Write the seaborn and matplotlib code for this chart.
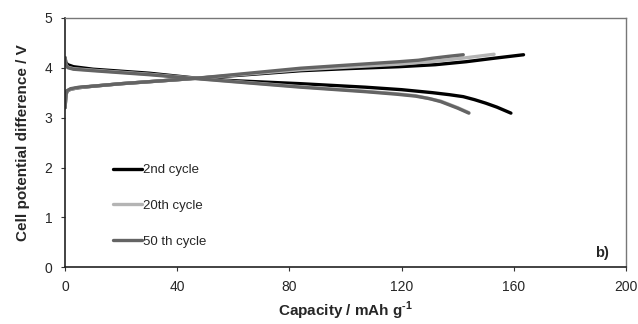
import pandas as pd
import matplotlib
matplotlib.use('Agg')
import matplotlib.pyplot as plt
import seaborn as sns

# Charge / discharge curves (capacity in mAh/g, potential in V)
cap_2_chg = [0, 0.3, 0.7, 2, 5, 10, 20, 30, 40, 47, 60, 84, 100, 119, 132, 143, 153, 163.5]
v_2_chg = [3.2, 3.45, 3.53, 3.57, 3.6, 3.63, 3.68, 3.72, 3.76, 3.79, 3.84, 3.94, 3.98, 4.02, 4.06, 4.12, 4.19, 4.26]
cap_2_dis = [0, 0.3, 1, 3, 10, 20, 30, 47, 60, 84, 107, 120, 131, 137, 142, 146, 150, 154, 159]
v_2_dis = [4.2, 4.1, 4.06, 4.02, 3.97, 3.93, 3.89, 3.79, 3.74, 3.68, 3.61, 3.56, 3.5, 3.46, 3.42, 3.36, 3.29, 3.21, 3.09]

cap_20_chg = [0, 0.3, 0.7, 2, 5, 10, 20, 30, 40, 47, 60, 84, 100, 119, 132, 143, 153]
v_20_chg = [3.2, 3.45, 3.53, 3.57, 3.6, 3.63, 3.68, 3.72, 3.76, 3.79, 3.85, 3.96, 4.01, 4.07, 4.13, 4.2, 4.27]
cap_20_dis = [0, 0.3, 1, 3, 10, 20, 30, 47, 60, 84, 107, 118, 125, 134, 140, 144]
v_20_dis = [4.2, 4.06, 4.01, 3.98, 3.95, 3.91, 3.87, 3.785, 3.725, 3.62, 3.53, 3.48, 3.44, 3.33, 3.2, 3.1]

cap_50_chg = [0, 0.3, 0.7, 2, 5, 10, 20, 30, 40, 47, 60, 84, 100, 119, 126, 131, 137, 142]
v_50_chg = [3.2, 3.45, 3.54, 3.58, 3.61, 3.63, 3.68, 3.72, 3.76, 3.79, 3.86, 3.99, 4.05, 4.12, 4.15, 4.19, 4.23, 4.26]
cap_50_dis = [0, 0.3, 1, 3, 10, 20, 30, 47, 60, 84, 107, 118, 125, 130, 134, 140, 144]
v_50_dis = [4.2, 4.05, 4.0, 3.97, 3.94, 3.9, 3.86, 3.78, 3.72, 3.61, 3.52, 3.47, 3.43, 3.38, 3.32, 3.19, 3.09]

cycles = ['2nd cycle', '20th cycle', '50 th cycle']
colors = ['#000000', '#b4b4b4', '#646464']

curves = [
    ('2nd cycle', 'charge', cap_2_chg, v_2_chg),
    ('2nd cycle', 'discharge', cap_2_dis, v_2_dis),
    ('20th cycle', 'charge', cap_20_chg, v_20_chg),
    ('20th cycle', 'discharge', cap_20_dis, v_20_dis),
    ('50 th cycle', 'charge', cap_50_chg, v_50_chg),
    ('50 th cycle', 'discharge', cap_50_dis, v_50_dis),
]
rows = []
for cyc, branch, xs, ys in curves:
    for x, y in zip(xs, ys):
        rows.append({'cycle': cyc, 'branch': cyc + ' ' + branch, 'capacity': x, 'voltage': y})
df = pd.DataFrame(rows)

sns.set_style('white')
plt.rcParams['font.family'] = ['Liberation Sans', 'DejaVu Sans']
plt.rcParams['mathtext.fontset'] = 'custom'
plt.rcParams['mathtext.bf'] = 'Liberation Sans:bold'
plt.rcParams['mathtext.rm'] = 'Liberation Sans:bold'

fig, ax = plt.subplots(figsize=(6.38, 3.24), dpi=100)
sns.lineplot(data=df, x='capacity', y='voltage', hue='cycle', hue_order=cycles,
             palette=colors, units='branch', estimator=None, sort=False,
             linewidth=2.4, ax=ax)

ax.set_xlim(0, 200)
ax.set_ylim(0, 5)
ax.set_xticks([0, 40, 80, 120, 160, 200])
ax.set_yticks([0, 1, 2, 3, 4, 5])
ax.tick_params(axis='both', labelsize=10, length=3, direction='out', color='#333333',
               bottom=True, left=True, pad=6)
for side in ['left', 'bottom']:
    ax.spines[side].set_color('#222222')
    ax.spines[side].set_linewidth(1.2)
for side in ['top', 'right']:
    ax.spines[side].set_color('#777777')
    ax.spines[side].set_linewidth(1.0)

ax.set_xlabel('Capacity / mAh g$^{\\text{-1}}$', fontsize=11, fontweight='bold')
ax.set_ylabel('Cell potential difference / V', fontsize=11, fontweight='bold')
ax.xaxis.set_label_coords(0.5, -0.13)
ax.xaxis.label.set_va('top')
ax.yaxis.set_label_coords(-0.062, 0.5)

ax.text(0.97, 0.03, 'b)', transform=ax.transAxes, fontsize=10.5, fontweight='bold',
        ha='right', va='bottom')

leg = ax.legend(loc='upper left', bbox_to_anchor=(0.064, 0.462), frameon=False,
                fontsize=9.5, handlelength=2.2, handletextpad=0.05, labelspacing=1.78)
for line in leg.get_lines():
    line.set_linewidth(2.4)

plt.subplots_adjust(left=0.102, right=0.981, top=0.945, bottom=0.175)
plt.savefig('out.png', dpi=100)
plt.close()
